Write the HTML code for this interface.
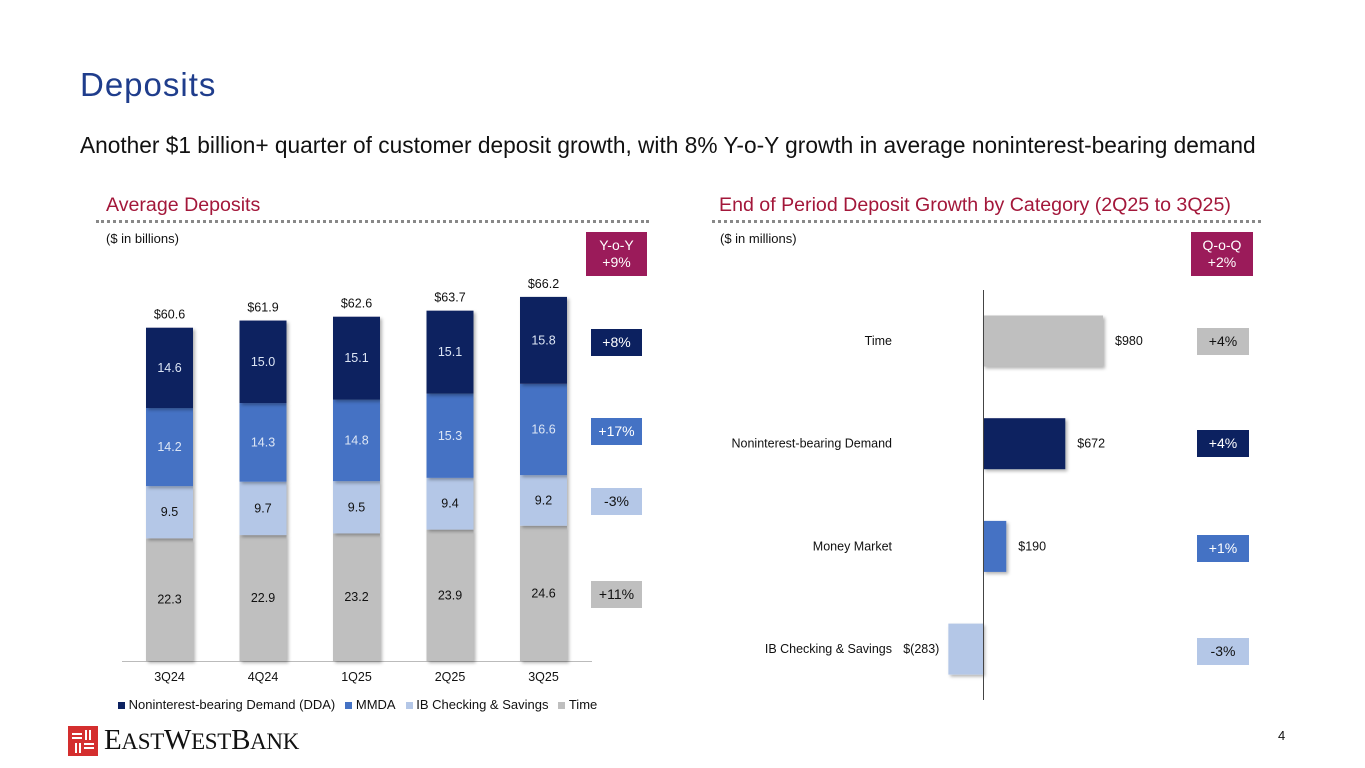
<!DOCTYPE html>
<html><head><meta charset="utf-8"><style>
body{margin:0;width:1365px;height:768px;background:#fff;font-family:"Liberation Sans",Arial,sans-serif;position:relative;overflow:hidden}
.a{position:absolute}
.badge{position:absolute;color:#fff;font-size:14px;text-align:center;display:flex;align-items:center;justify-content:center;line-height:17px}
</style></head><body>
<div class="a" style="left:80px;top:66px;font-size:33px;color:#1f3d8c;letter-spacing:1px">Deposits</div>
<div class="a" style="left:80px;top:132px;font-size:22.7px;color:#111">Another $1 billion+ quarter of customer deposit growth, with 8% Y-o-Y growth in average noninterest-bearing demand</div>
<div class="a" style="left:106px;top:194px;font-size:19.6px;color:#a3173a">Average Deposits</div>
<div class="a" style="left:96px;top:220px;width:553px;border-top:3px dotted #888"></div>
<div class="a" style="left:106px;top:231px;font-size:13px;color:#111">($ in billions)</div>
<div class="a" style="left:719px;top:194px;font-size:19.6px;color:#a3173a">End of Period Deposit Growth by Category (2Q25 to 3Q25)</div>
<div class="a" style="left:712px;top:220px;width:549px;border-top:3px dotted #888"></div>
<div class="a" style="left:720px;top:231px;font-size:13px;color:#111">($ in millions)</div>

<div class="badge" style="left:586px;top:232px;width:61px;height:44px;background:#9b1b5a">Y-o-Y<br>+9%</div>
<div class="badge" style="left:591px;top:329px;width:51px;height:27px;background:#0c2160">+8%</div>
<div class="badge" style="left:591px;top:418px;width:51px;height:27px;background:#4472c4">+17%</div>
<div class="badge" style="left:591px;top:488px;width:51px;height:27px;background:#b4c7e7;color:#111">-3%</div>
<div class="badge" style="left:591px;top:581px;width:51px;height:27px;background:#bfbfbf;color:#111">+11%</div>

<div class="badge" style="left:1191px;top:232px;width:62px;height:44px;background:#9b1b5a">Q-o-Q<br>+2%</div>
<div class="badge" style="left:1197px;top:328px;width:52px;height:27px;background:#bfbfbf;color:#111">+4%</div>
<div class="badge" style="left:1197px;top:430px;width:52px;height:27px;background:#0c2160">+4%</div>
<div class="badge" style="left:1197px;top:535px;width:52px;height:27px;background:#4472c4">+1%</div>
<div class="badge" style="left:1197px;top:638px;width:52px;height:27px;background:#b4c7e7;color:#111">-3%</div>

<svg class="a" style="left:0;top:0" width="1365" height="768">
<defs><filter id="sh" x="-20%" y="-20%" width="150%" height="150%"><feDropShadow dx="2" dy="2" stdDeviation="1.5" flood-color="#000" flood-opacity="0.3"/></filter></defs>
<g id="left"></g><g id="right"></g>
</svg>

<div class="a" style="left:118px;top:697px;font-size:13px;color:#111;display:flex;gap:10px;align-items:center">
<span><span style="display:inline-block;width:7px;height:7px;background:#0c2160"></span> Noninterest-bearing Demand (DDA)</span>
<span><span style="display:inline-block;width:7px;height:7px;background:#4472c4"></span> MMDA</span>
<span><span style="display:inline-block;width:7px;height:7px;background:#b4c7e7"></span> IB Checking &amp; Savings</span>
<span><span style="display:inline-block;width:7px;height:7px;background:#bfbfbf"></span> Time</span>
</div>

<div class="a" style="left:68px;top:724px;display:flex;align-items:center">
<svg width="30" height="30"><rect width="30" height="30" fill="#d42e2e"/><g stroke="#fff" stroke-width="2"><line x1="4" y1="8" x2="14" y2="8"/><line x1="4" y1="12" x2="14" y2="12"/><line x1="18" y1="4" x2="18" y2="14"/><line x1="22" y1="4" x2="22" y2="14"/><line x1="8" y1="17" x2="8" y2="27"/><line x1="12" y1="17" x2="12" y2="27"/><line x1="16" y1="22" x2="26" y2="22"/><line x1="16" y1="18" x2="26" y2="18"/></g></svg>
<span style="font-family:'Liberation Serif',serif;font-size:29px;color:#111;margin-left:6px;letter-spacing:-0.3px">E<span style="font-size:23px">AST</span>W<span style="font-size:23px">EST</span>B<span style="font-size:23px">ANK</span></span>
</div>
<div class="a" style="left:1278px;top:728px;font-size:13px;color:#111">4</div>

<script>
const quarters=["3Q24","4Q24","1Q25","2Q25","3Q25"];
const timeVals=[22.3,22.9,23.2,23.9,24.6];
const ibVals=[9.5,9.7,9.5,9.4,9.2];
const mmdaVals=[14.2,14.3,14.8,15.3,16.6];
const ddaVals=[14.6,15.0,15.1,15.1,15.8];
const totals=["$60.6","$61.9","$62.6","$63.7","$66.2"];
const categories=["Time","Noninterest-bearing Demand","Money Market","IB Checking & Savings"];
const changes=[980,672,190,-283];
const changeLabels=["$980","$672","$190","$(283)"];
const NS="http://www.w3.org/2000/svg";
function mk(tag,attrs,parent,text){const e=document.createElementNS(NS,tag);for(const k in attrs)e.setAttribute(k,attrs[k]);if(text!==undefined)e.textContent=text;parent.appendChild(e);return e;}
const L=document.getElementById('left');
const base=661,scale=5.5,x0=169.5,step=93.5,bw=47;
const y=v=>base-v*scale, xc=i=>x0+i*step;
const ax=mk('line',{x1:122,x2:592,y1:base+0.5,y2:base+0.5,stroke:'#bbb','stroke-width':1},L);


const series=[[timeVals,'#bfbfbf','#111','time'],[ibVals,'#b4c7e7','#111','ib'],[mmdaVals,'#4472c4','#dde6f5','mmda'],[ddaVals,'#0c2160','#dde6f5','dda']];
quarters.forEach((q,i)=>{
  let cum=0;
  series.forEach(([vals,col,tc,nm])=>{
    const v=vals[i];
    const r=mk('rect',{x:xc(i)-bw/2,y:y(cum+v),width:bw,height:v*scale,fill:col,filter:'url(#sh)'},L);
    
    
    const t=mk('text',{x:xc(i),y:y(cum+v/2)+4,'text-anchor':'middle','font-size':12.5,fill:tc},L,v.toFixed(1));
    
    
    cum+=v;
  });
  const tt=mk('text',{x:xc(i),y:y(cum)-9,'text-anchor':'middle','font-size':12.5,fill:'#111'},L,totals[i]);
  
  
  const xl=mk('text',{x:xc(i),y:681,'text-anchor':'middle','font-size':12.5,fill:'#111'},L,q);
  
  
});
const R=document.getElementById('right');
const zx=983,rs=120/980,ry0=341,rstep=102.7,bh=51;
const rx=v=>zx+v*rs;
const cols=['#bfbfbf','#0c2160','#4472c4','#b4c7e7'];
categories.forEach((c,i)=>{
  const cy=ry0+i*rstep,v=changes[i];
  const b=mk('rect',{x:Math.min(rx(v),zx),y:cy-bh/2,width:Math.abs(rx(v)-zx),height:bh,fill:cols[i],filter:'url(#sh)'},R);
  
  
  const cl=mk('text',{x:892,y:cy+4,'text-anchor':'end','font-size':12.5,fill:'#111'},R,c);
  
  
  const vl=mk('text',v>=0?{x:rx(v)+12,y:cy+4,'font-size':12.5,fill:'#111'}:{x:rx(v)-9,y:cy+4,'text-anchor':'end','font-size':12.5,fill:'#111'},R,changeLabels[i]);
  
  
});
const ra=mk('line',{x1:zx+0.5,x2:zx+0.5,y1:290,y2:700,stroke:'#444','stroke-width':1},R);


</script>
</body></html>
